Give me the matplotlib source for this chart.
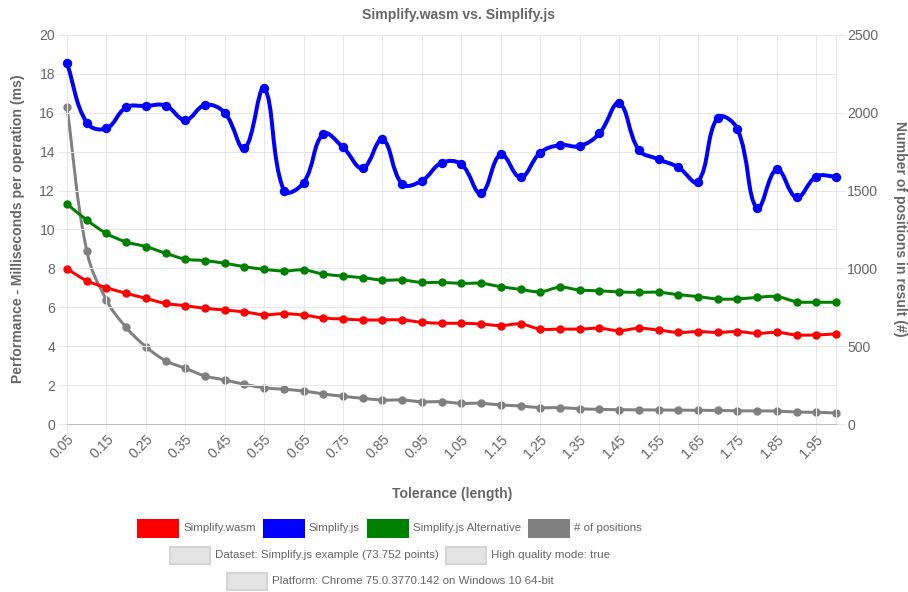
import numpy as np
import matplotlib
matplotlib.use("Agg")
import matplotlib.pyplot as plt
from matplotlib.path import Path
from matplotlib.patches import PathPatch, Rectangle
from matplotlib.transforms import ScaledTranslation

# tolerance categories (x axis)
tolerance = [0.05, 0.10, 0.15, 0.20, 0.25, 0.30, 0.35, 0.40, 0.45, 0.50,
             0.55, 0.60, 0.65, 0.70, 0.75, 0.80, 0.85, 0.90, 0.95, 1.00,
             1.05, 1.10, 1.15, 1.20, 1.25, 1.30, 1.35, 1.40, 1.45, 1.50,
             1.55, 1.60, 1.65, 1.70, 1.75, 1.80, 1.85, 1.90, 1.95, 2.00]

# ms per operation
wasm_ms = [7.98, 7.37, 7.01, 6.72, 6.46, 6.20, 6.08, 5.95, 5.86, 5.76,
           5.62, 5.67, 5.60, 5.45, 5.40, 5.35, 5.35, 5.35, 5.23, 5.18,
           5.18, 5.14, 5.06, 5.14, 4.88, 4.88, 4.88, 4.92, 4.80, 4.92,
           4.83, 4.71, 4.75, 4.71, 4.75, 4.66, 4.71, 4.58, 4.58, 4.63]
js_ms = [18.55, 15.49, 15.20, 16.28, 16.35, 16.37, 15.63, 16.40, 16.00, 14.17,
         17.26, 12.00, 12.41, 14.91, 14.22, 13.15, 14.64, 12.34, 12.51, 13.43,
         13.35, 11.86, 13.86, 12.68, 13.95, 14.34, 14.29, 14.94, 16.49, 14.09,
         13.61, 13.20, 12.46, 15.75, 15.17, 11.09, 13.10, 11.65, 12.72, 12.72]
js_alt_ms = [11.31, 10.49, 9.80, 9.36, 9.12, 8.78, 8.48, 8.40, 8.26, 8.09,
             7.95, 7.87, 7.92, 7.71, 7.61, 7.52, 7.40, 7.40, 7.28, 7.28,
             7.23, 7.23, 7.06, 6.92, 6.80, 7.03, 6.89, 6.85, 6.79, 6.77,
             6.77, 6.65, 6.55, 6.43, 6.43, 6.51, 6.55, 6.29, 6.26, 6.26]
# number of positions in result (right axis)
positions = [2035, 1114, 797, 621, 497, 407, 358, 309, 283, 255,
             233, 223, 212, 193, 178, 165, 154, 154, 143, 143,
             133, 133, 122, 116, 105, 105, 98, 94, 92, 91,
             90, 89, 88, 87, 85, 84, 83, 77, 75, 71]

series_labels = ["Simplify.wasm", "Simplify.js", "Simplify.js Alternative", "# of positions"]
info_rows = [["Dataset: Simplify.js example (73.752 points)", "High quality mode: true"],
             ["Platform: Chrome 75.0.3770.142 on Windows 10 64-bit"]]

W, H = 908, 592
TXT = "#666666"
GRID = "#e6e6e6"
PX = 0.72  # one pixel in points at dpi 100

plt.rcParams["font.family"] = ["Liberation Sans", "DejaVu Sans"]

fig = plt.figure(figsize=(W / 100, H / 100), dpi=100)
ax = fig.add_axes([67 / W, 1 - 424 / H, (836 - 67) / W, (424 - 35) / H])
ax2 = ax.twinx()
ax.set_zorder(ax2.get_zorder() + 1)
ax.patch.set_visible(False)

ax.set_xlim(tolerance[0], tolerance[-1])
ax.set_ylim(0, 20)
ax2.set_ylim(0, 2500)

ax.set_xticks(tolerance[:-1:2])
ax.set_xticklabels(["%.2f" % t for t in tolerance[:-1:2]], rotation=45,
                   ha="right", va="center", rotation_mode="anchor")
ax.set_yticks(range(0, 21, 2))
ax2.set_yticks(range(0, 2501, 500))
ax.grid(True, color=GRID, lw=PX)
ax.set_axisbelow(True)
ax.tick_params(axis="y", length=9 * PX, width=PX, color=GRID, pad=3 * PX,
               labelcolor=TXT, labelsize=14 * PX)
ax.tick_params(axis="x", length=9 * PX, width=PX, color=GRID, pad=4 * PX,
               labelcolor=TXT, labelsize=14 * PX)
ax2.tick_params(axis="y", length=9 * PX, width=PX, color=GRID, pad=2 * PX,
                labelcolor=TXT, labelsize=14 * PX)
for lbl in ax.get_xticklabels():
    lbl.set_transform(lbl.get_transform() + ScaledTranslation(5 / 100, 0, fig.dpi_scale_trans))

for s in ax2.spines.values():
    s.set_visible(False)
ax.spines["top"].set_visible(False)
ax.spines["left"].set_color(GRID)
ax.spines["right"].set_color(GRID)
ax.spines["bottom"].set_color("#bfbfbf")
for s in ax.spines.values():
    s.set_linewidth(PX)


def spline_line(axis, xs, ys, color, lw, ms, z, tension=0.4):
    # Chart.js style bezier through the points, computed in pixel space
    pts = axis.transData.transform(np.column_stack([xs, ys]))
    n = len(pts)
    cprev, cnext = [], []
    for i in range(n):
        p0 = pts[max(i - 1, 0)]
        p1 = pts[i]
        p2 = pts[min(i + 1, n - 1)]
        d01 = np.hypot(*(p1 - p0))
        d12 = np.hypot(*(p2 - p1))
        tot = d01 + d12
        s01 = d01 / tot if tot else 0
        s12 = d12 / tot if tot else 0
        cprev.append(p1 - tension * s01 * (p2 - p0))
        cnext.append(p1 + tension * s12 * (p2 - p0))
    verts = [pts[0]]
    codes = [Path.MOVETO]
    for i in range(1, n):
        verts += [cnext[i - 1], cprev[i], pts[i]]
        codes += [Path.CURVE4] * 3
    verts = axis.transData.inverted().transform(np.array(verts))
    axis.add_patch(PathPatch(Path(verts, codes), fill=False, edgecolor=color,
                             lw=lw * PX, zorder=z, clip_on=False,
                             capstyle="round", joinstyle="round"))
    axis.plot(xs, ys, "o", color=color, ms=ms * PX, zorder=z + 0.1, clip_on=False)


spline_line(ax2, tolerance, positions, "#808080", 3, 7, 2)
spline_line(ax, tolerance, js_alt_ms, "#008000", 3, 7, 3)
spline_line(ax, tolerance, js_ms, "#0000ff", 4, 8, 4)
spline_line(ax, tolerance, wasm_ms, "#ff0000", 3, 7, 5)

# titles
fig.text(459 / W, 1 - 15 / H, "Simplify.wasm vs. Simplify.js", ha="center", va="center",
         color=TXT, fontsize=14 * PX, fontweight="bold")
fig.text(18 / W, 1 - 229 / H, "Performance - Milliseconds per operation (ms)", rotation=90,
         ha="center", va="center", color=TXT, fontsize=14 * PX, fontweight="bold")
fig.text(900 / W, 1 - 229 / H, "Number of positions in result (#)", rotation=270,
         ha="center", va="center", color=TXT, fontsize=14 * PX, fontweight="bold")
fig.text(452 / W, 1 - 494 / H, "Tolerance (length)", ha="center", va="center",
         color=TXT, fontsize=14 * PX, fontweight="bold")

# legend, laid out by hand in pixels
renderer = fig.canvas.get_renderer()
legend_rows = [
    (list(zip(series_labels, ["#ff0000", "#0000ff", "#008000", "#808080"])), 528),
    ([(t, None) for t in info_rows[0]], 555),
    ([(t, None) for t in info_rows[1]], 581),
]
box_w, box_h, gap, item_gap, center = 40, 17, 5, 8, 390
for items, yc in legend_rows:
    texts = []
    for label, _ in items:
        t = fig.text(0, 1 - yc / H, label, ha="left", va="center", color=TXT, fontsize=11.5 * PX)
        texts.append(t)
    widths = [t.get_window_extent(renderer).width for t in texts]
    total = sum(box_w + gap + w for w in widths) + item_gap * (len(items) - 1)
    x = center - total / 2
    for (label, col), t, w in zip(items, texts, widths):
        fc = col if col else "#e4e4e4"
        ec = col if col else "#d4d4d4"
        fig.add_artist(Rectangle((x / W, 1 - (yc + box_h / 2) / H), box_w / W, box_h / H,
                                 transform=fig.transFigure, facecolor=fc, edgecolor=ec,
                                 lw=2 * PX))
        t.set_x((x + box_w + gap) / W)
        x += box_w + gap + w + item_gap

fig.savefig("out.png", dpi=100)
